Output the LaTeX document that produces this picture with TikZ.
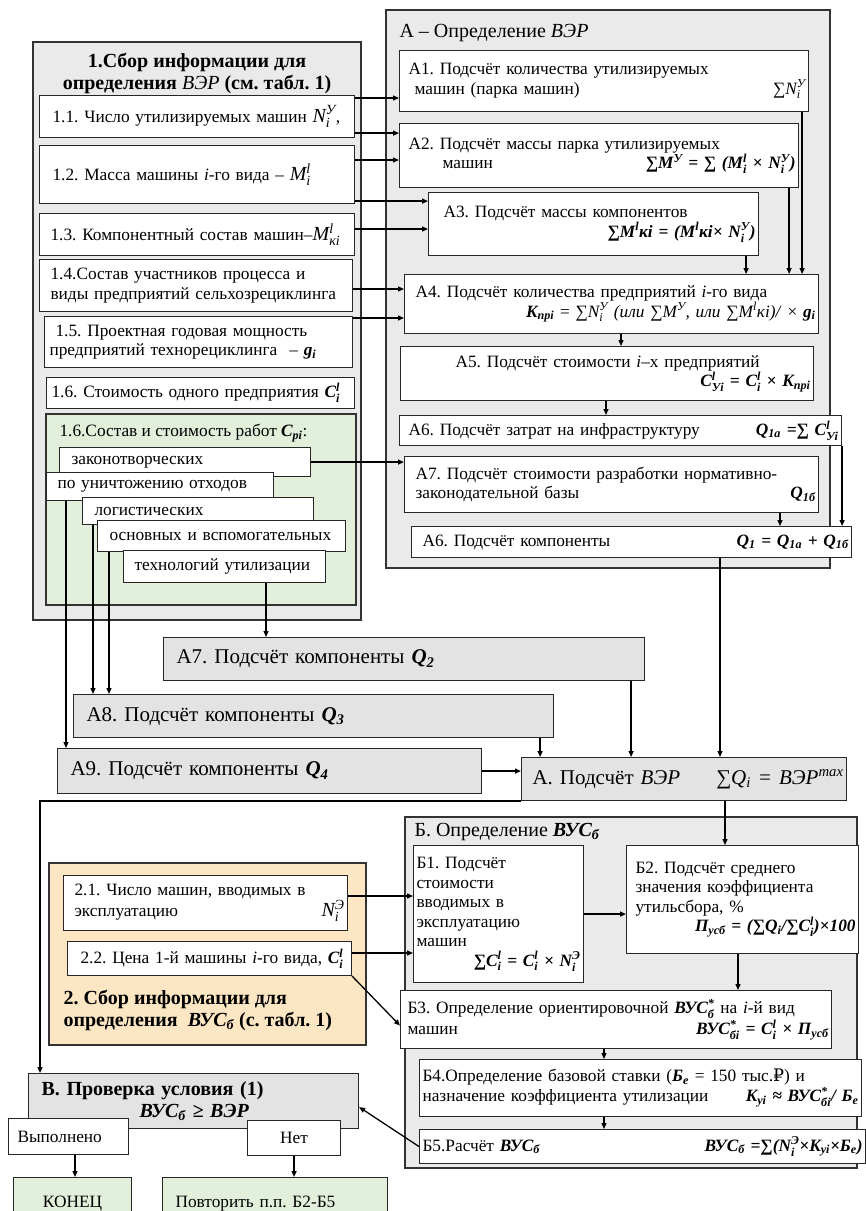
\documentclass[tikz,border=0pt]{standalone}
\usepackage{amsmath}
\usepackage{fontspec}
\setmainfont{Liberation Serif}
\newfontfamily\rubfont{DejaVu Serif}
\usetikzlibrary{calc,arrows.meta}

\definecolor{grayA}{HTML}{EAEAEA}
\definecolor{grayB}{HTML}{E3E3E3}
\definecolor{greenA}{HTML}{E2EFDA}
\definecolor{sandA}{HTML}{FCE6C3}

\newcommand{\idx}[3]{#1$^{\text{#2}}_{\text{#3}}$}
\newcommand{\sbx}[2]{#1$_{\text{#2}}$}
\newcommand{\fml}[1]{\textbf{\textit{#1}}}
\newcommand{\pushr}{\hskip 0pt plus 1filll\relax}
\frenchspacing

\begin{document}
\begin{tikzpicture}[x=1pt, y=-1pt,
    box/.style={draw=black!85, line width=1.1pt, fill=white, anchor=north west, inner xsep=3pt, inner ysep=1pt, align=left, font=\fontsize{17.3}{19.5}\selectfont},
    gbox/.style={box, fill=grayB, font=\fontsize{21}{23}\selectfont},
    wh/.style 2 args={minimum width=#1pt, minimum height=#2pt, /utils/exec={\pgfmathsetmacro\twd{#1-6}}, text width=\twd pt},
    grp/.style={draw=black!80, line width=1.3pt},
    head/.style={font=\bfseries\fontsize{20}{22}\selectfont},
    txt/.style={font=\fontsize{17.3}{19.5}\selectfont},
    arr/.style={-{Triangle[length=6pt,width=5pt]}, line width=1.3pt}]

    \clip (0,0) rectangle (866,1211);
    \fill[white] (0,0) rectangle (866,1211);

    % 1. collecting data for VER
    \draw[grp, fill=grayA] (33,42) rectangle (361,620); % group 1
    \node[head, align=center] (t1) at (197,73) {1.Сбор информации для\\ определения \textit{\mdseries ВЭР} (см. табл. 1)};
    \node[box, wh={315}{42}] (b11) at (39,95) {\hspace*{10pt}1.1. Число утилизируемых машин {\fontsize{20}{20}\selectfont\textit{\idx{N}{У}{i}}},};
    \node[box, wh={315}{58}] (b12) at (39,145) {\hspace*{10pt}1.2. Масса машины \textit{i}-го вида – {\fontsize{20}{20}\selectfont\textit{\idx{M}{l}{i}}}\\[6pt]};
    \node[box, wh={315}{42}] (b13) at (39,213) {\hspace*{8pt}1.3. Компонентный состав машин–{\fontsize{20}{20}\selectfont\textit{\idx{M}{l}{кi}}}};
    \node[box, wh={313}{52}] (b14) at (39,259) {\hspace*{8pt}1.4.Состав участников процесса и\\ \hspace*{8pt}виды предприятий сельхозрециклинга};
    \node[box, wh={308}{51}] (b15) at (44,316) {\hspace*{8pt}1.5. Проектная годовая мощность\\ \hspace*{2pt}предприятий технорециклинга\hspace*{12pt}– \fml{\sbx{g}{i}}};
    \node[box, wh={308}{31}] (b16) at (46,377) {\hspace*{2pt}1.6. Стоимость одного предприятия \fml{\idx{C}{l}{i}}};

    \draw[grp, fill=greenA] (46,414) rectangle (356,605); % works 1.6
    \node[txt, anchor=west] (t16) at (56,433) {1.6.Состав и стоимость работ \fml{\sbx{C}{pi}}:};
    \node[box, wh={251}{29}] (s1) at (59,447) {\hspace*{9pt}законотворческих};
    \node[box, wh={227}{28}] (s2) at (46,472) {\hspace*{8pt}по уничтожению отходов};
    \node[box, wh={231}{27}] (s3) at (82,497) {\hspace*{9pt}логистических};
    \node[box, wh={248}{31}] (s4) at (97,520) {\hspace*{9pt}основных и вспомогательных};
    \node[box, wh={202}{32}] (s5) at (123,550) {\hspace*{8pt}технологий утилизации};

    % A. determining VER
    \draw[grp, fill=grayA] (386,10) rectangle (830,568); % group A
    \node[anchor=west, font=\fontsize{20}{22}\selectfont] (ta) at (396,33) {А – Определение \textit{ВЭР}};
    \node[box, wh={409}{61}] (a1) at (399,50) {\hspace*{6pt}А1. Подсчёт количества утилизируемых\\ \hspace*{12pt}машин (парка машин)\pushr\textit{∑\idx{N}{У}{i}}\hspace*{34pt}};
    \node[box, wh={399}{64}] (a2) at (399,123) {\hspace*{6pt}А2. Подсчёт массы парка  утилизируемых\\ \hspace*{40pt}машин\pushr\fml{∑M\textsuperscript{У} = ∑ (\idx{M}{l}{i} × \idx{N}{У}{i})}\hspace*{14pt}};
    \node[box, wh={330}{63}] (a3) at (428,192) {\hspace*{12pt}А3. Подсчёт массы компонентов\\ \pushr\fml{∑M\textsuperscript{l}кi = (M\textsuperscript{l}кi× \idx{N}{У}{i})}\hspace*{10pt}};
    \node[box, wh={414}{59}] (a4) at (404,274) {\hspace*{8pt}А4. Подсчёт количества предприятий \textit{i}-го вида\\ \pushr\fml{\sbx{K}{прi}} = \textit{∑\idx{N}{У}{i} (или ∑M\textsuperscript{У}, или ∑M\textsuperscript{l}кi)/} × \fml{\sbx{g}{i}}};
    \node[box, wh={413}{54}] (a5) at (400,346) {\hspace*{52pt}А5. Подсчёт стоимости \textit{i}–х предприятий\\ \pushr\fml{\idx{C}{l}{Уi} = \idx{C}{l}{i} × \sbx{K}{прi}}};
    \node[box, wh={442}{30}] (a6) at (399,415) {\hspace*{6pt}А6. Подсчёт затрат на инфраструктуру\pushr\fml{\sbx{Q}{1а} =∑ \idx{C}{l}{Уi}}\hspace*{6pt}};
    \node[box, wh={414}{56}] (a7) at (404,456) {\hspace*{8pt}А7. Подсчёт стоимости разработки нормативно-\\ \hspace*{8pt}законодательной базы\pushr\fml{\sbx{Q}{1б}}\hspace*{10pt}};
    \node[box, wh={440}{31}] (a6b) at (411,526) {\hspace*{8pt}А6. Подсчёт компоненты\pushr\fml{\sbx{Q}{1} = \sbx{Q}{1а} + \sbx{Q}{1б}}};

    % other components
    \node[gbox, wh={481}{43}] (a7b) at (163,637) {\hspace*{10pt}А7. Подсчёт компоненты \fml{\sbx{Q}{2}}};
    \node[gbox, wh={480}{43}] (a8b) at (73,694) {\hspace*{10pt}А8. Подсчёт компоненты \fml{\sbx{Q}{3}}};
    \node[gbox, wh={424}{45}] (a9b) at (57,748) {\hspace*{10pt}А9. Подсчёт компоненты \fml{\sbx{Q}{4}}};
    \node[gbox, wh={325}{43}] (ab) at (521,757) {\hspace*{8pt}А. Подсчёт \textit{ВЭР}\pushr\textit{∑\sbx{Q}{i} = ВЭР\textsuperscript{max}}};

    % 2. collecting data for VUS
    \draw[grp, fill=sandA] (49,863) rectangle (366,1045); % group 2
    \node[box, wh={284}{55}] (b21) at (63,875) {\hspace*{8pt}2.1. Число машин, вводимых в\\ \hspace*{8pt}эксплуатацию\pushr{\fontsize{20}{20}\selectfont\textit{\idx{N}{Э}{i}}}\hspace*{20pt}};
    \node[box, wh={284}{34}] (b22) at (67,941) {\hspace*{10pt}2.2. Цена 1-й машины \textit{i}-го вида, \fml{\idx{C}{l}{i}}};
    \node[head, anchor=west, align=left] (t2) at (60,1010) {2. Сбор информации для\\ определения \ \textit{ВУС\textsubscript{б}} (с. табл. 1)};

    % B. determining VUS
    \draw[grp, fill=grayA] (405,817) rectangle (857,1168); % group B
    \node[anchor=west, font=\fontsize{20}{22}\selectfont] (tb) at (411,832) {Б. Определение \fml{\sbx{ВУС}{б}}};
    \node[box, wh={170}{137}] (bb1) at (413,845) {Б1. Подсчёт\\ стоимости\\ вводимых в\\ эксплуатацию\\ машин\\ \pushr\fml{∑\idx{C}{l}{i} = \idx{C}{l}{i} × \idx{N}{Э}{i}}\hspace*{4pt}};
    \node[box, wh={232}{108}] (bb2) at (626,845) {\hspace*{6pt}Б2. Подсчёт среднего\\ \hspace*{6pt}значения коэффициента\\ \hspace*{6pt}утильсбора, \%\\ \pushr\fml{\sbx{П}{усб} = (∑\sbx{Q}{i}/∑\idx{C}{l}{i})×100}};
    \node[box, wh={431}{58}] (bb3) at (400,990) {\hspace*{4pt}Б3. Определение  ориентировочной \fml{\idx{ВУС}{*}{б}} на \textit{i}-й вид\\ \hspace*{4pt}машин\pushr\fml{\idx{ВУС}{*}{бi} = \idx{C}{l}{i} × \sbx{П}{усб}}\hspace*{6pt}};
    \node[box, wh={442}{57}] (bb4) at (419,1059) {Б4.Определение базовой ставки (\fml{\sbx{Б}{е}} = 150 тыс.{\rubfont ₽}) и\\ назначение коэффициента утилизации\pushr\fml{\sbx{K}{уi} ≈ \idx{ВУС}{*}{бi}/ \sbx{Б}{е}}};
    \node[box, wh={446}{34}] (bb5) at (419,1129) {Б5.Расчёт \fml{\sbx{ВУС}{б}}\pushr\fml{\sbx{ВУС}{б} =∑(\idx{N}{Э}{i}×\sbx{K}{уi}×\sbx{Б}{е})}};

    % V. check of condition
    \node[gbox, wh={330}{55}, head] (vb) at (28,1073) {\hspace*{10pt}В. Проверка условия (1)\\ \hspace*{108pt}\textit{\sbx{ВУС}{б} ≥ ВЭР}};
    \node[box, wh={120}{36}] (yes) at (8,1118) {\hspace*{6pt}Выполнено};
    \node[box, wh={93}{35}, align=center] (no) at (247,1120) {Нет};
    \node[box, wh={118}{52}, fill=greenA, align=center] (fin) at (13,1177) {КОНЕЦ\\[8pt]};
    \node[box, wh={225}{52}, fill=greenA] (rep) at (162,1177) {\hspace*{10pt}Повторить п.п. Б2-Б5\\[8pt]};

    % data 1 -> A
    \draw[arr] ($(b11.north east)+(0,3)$) -- ($(b11.north east -| a1.west)+(0,3)$);
    \draw[arr] ($(b11.south east)+(0,-5)$) -- ($(b11.south east -| a2.west)+(0,-5)$);
    \draw[arr] ($(b12.north east)+(0,15)$) -- ($(b12.north east -| a2.west)+(0,15)$);
    \draw[arr] ($(b12.south east)+(0,-3)$) -- ($(b12.south east -| a3.west)+(0,-3)$);
    \draw[arr] ($(b13.north east)+(0,16)$) -- ($(b13.north east -| a3.west)+(0,16)$);
    \draw[arr] ($(b14.north east)+(0,30)$) -- ($(b14.north east -| a4.west)+(0,30)$);
    \draw[arr] ($(b15.north east)+(0,2)$) -- ($(b15.north east -| a4.west)+(0,2)$);
    \draw[arr] (s1.east) -- (s1.east -| a7.west);

    % inside A
    \draw[arr] ($(a1.south east)+(-7,0)$) -- ($(a1.south east |- a4.north)+(-7,0)$);
    \draw[arr] ($(a2.south east)+(-10,0)$) -- ($(a2.south east |- a4.north)+(-10,0)$);
    \draw[arr] ($(a3.south east)+(-13,0)$) -- ($(a3.south east |- a4.north)+(-13,0)$);
    \draw[arr] ($(a4.south west)+(217,0)$) -- ($(a4.south west |- a5.north)+(217,0)$);
    \draw[arr] ($(a5.south west)+(206,0)$) -- ($(a5.south west |- a6.north)+(206,0)$);
    \draw[arr] (a6.south east) -- (a6.south east |- a6b.north);
    \draw[arr] ($(a7.south west)+(376,0)$) -- ($(a7.south west |- a6b.north)+(376,0)$);

    % works -> components
    \draw[arr] ($(s5.south west)+(143,0)$) -- ($(s5.south west |- a7b.north)+(143,0)$);
    \draw[arr] ($(s4.south west)+(12,0)$) -- ($(s4.south west |- a8b.north)+(12,0)$);
    \draw[arr] ($(s3.south west)+(11,0)$) -- ($(s3.south west |- a8b.north)+(11,0)$);
    \draw[arr] ($(s2.south west)+(20,0)$) -- ($(s2.south west |- a9b.north)+(20,0)$);

    % components -> VER
    \draw[arr] (a9b.east) -- (a9b.east -| ab.west);
    \draw[arr] ($(a8b.south east)+(-14,0)$) -- ($(a8b.south east |- ab.north)+(-14,0)$);
    \draw[arr] ($(a7b.south east)+(-14,0)$) -- ($(a7b.south east |- ab.north)+(-14,0)$);
    \draw[arr] ($(a6b.south west)+(309,0)$) -- ($(a6b.south west |- ab.north)+(309,0)$);
    \draw[arr] (ab.south west) -| ($(vb.north west)+(12,0)$);
    \draw[arr] ($(ab.south west)+(204,0)$) -- ($(ab.south west |- bb2.north)+(204,0)$);

    % data 2 -> B
    \draw[arr] ($(b21.north east)+(0,21)$) -- ($(b21.north east -| bb1.west)+(0,21)$);
    \draw[arr] ($(b22.north east)+(0,12)$) -- ($(b22.north east -| bb1.west)+(0,12)$);
    \draw[arr] (b22.south east) -- ($(bb3.west)+(0,6)$);

    % inside B
    \draw[arr] (bb1.east) -- (bb1.east -| bb2.west);
    \draw[arr] ($(bb2.south west)+(112,0)$) -- ($(bb2.south west |- bb3.north)+(112,0)$);
    \draw[arr] ($(bb3.south west)+(204,0)$) -- ($(bb3.south west |- bb4.north)+(204,0)$);
    \draw[arr] ($(bb4.south west)+(185,0)$) -- ($(bb4.south west |- bb5.north)+(185,0)$);
    \draw[arr] (bb5.west) -- ($(vb.east)+(0,6)$);

    % outcome
    \draw[arr] ($(yes.south west)+(67,0)$) -- ($(yes.south west |- fin.north)+(67,0)$);
    \draw[arr] (no.south) -- (no.south |- rep.north);
\end{tikzpicture}
\end{document}
